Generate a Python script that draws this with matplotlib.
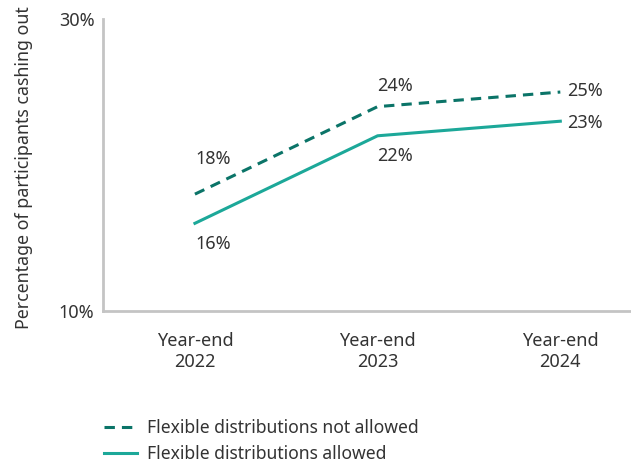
import matplotlib.pyplot as plt

# Cash-out rates by plan type
years = ['Year-end\n2022', 'Year-end\n2023', 'Year-end\n2024']
not_allowed = [18, 24, 25]
allowed = [16, 22, 23]
y_ticks = [10, 30]

plt.rcParams['font.family'] = ['Noto Sans', 'DejaVu Sans']
text_col = '#333333'
dark_teal = '#0b7468'
light_teal = '#1ca899'
spine_col = '#c4c4c4'
fs = 13

fig = plt.figure(figsize=(6.31, 4.66), dpi=100)
ax = fig.add_axes([0.163, 0.333, 0.835, 0.626])

x = list(range(len(years)))
ax.plot(x, not_allowed, color=dark_teal, lw=2.2, ls=(0, (3.4, 2.3)),
        label='Flexible distributions not allowed')
ax.plot(x, allowed, color=light_teal, lw=2.2,
        label='Flexible distributions allowed')

# value labels: above/below for the first two points, to the right for the last
ax.text(0, not_allowed[0] + 2.4, f'{not_allowed[0]}%', ha='left', va='center',
        fontsize=fs, color=text_col)
ax.text(1, not_allowed[1] + 1.4, f'{not_allowed[1]}%', ha='left', va='center',
        fontsize=fs, color=text_col)
ax.text(2.04, not_allowed[2] + 0.1, f'{not_allowed[2]}%', ha='left', va='center',
        fontsize=fs, color=text_col)
ax.text(0, allowed[0] - 1.4, f'{allowed[0]}%', ha='left', va='center',
        fontsize=fs, color=text_col)
ax.text(1, allowed[1] - 1.4, f'{allowed[1]}%', ha='left', va='center',
        fontsize=fs, color=text_col)
ax.text(2.04, allowed[2] - 0.1, f'{allowed[2]}%', ha='left', va='center',
        fontsize=fs, color=text_col)

ax.set_xlim(-0.504, 2.38)
ax.set_ylim(10, 30)
ax.set_xticks(x)
ax.set_xticklabels(years, fontsize=fs, color=text_col, linespacing=1.25)
ax.set_yticks(y_ticks)
ax.set_yticklabels([f'{v}%' for v in y_ticks], fontsize=fs, color=text_col)
ax.tick_params(length=0)
ax.tick_params(axis='x', pad=15)
ax.tick_params(axis='y', pad=6)
ax.set_ylabel('Percentage of participants cashing out', fontsize=12.8,
              color=text_col)
ax.yaxis.set_label_coords(-0.133, 0.49)

for side in ['top', 'right']:
    ax.spines[side].set_visible(False)
for side in ['left', 'bottom']:
    ax.spines[side].set_color(spine_col)
    ax.spines[side].set_linewidth(2)

fig.legend(loc='upper left', bbox_to_anchor=(0.14, 0.135), frameon=False,
           fontsize=12.6, labelcolor=text_col, handlelength=1.9,
           handletextpad=0.55, labelspacing=0.45)

fig.savefig('out.png', dpi=100, facecolor='white')
